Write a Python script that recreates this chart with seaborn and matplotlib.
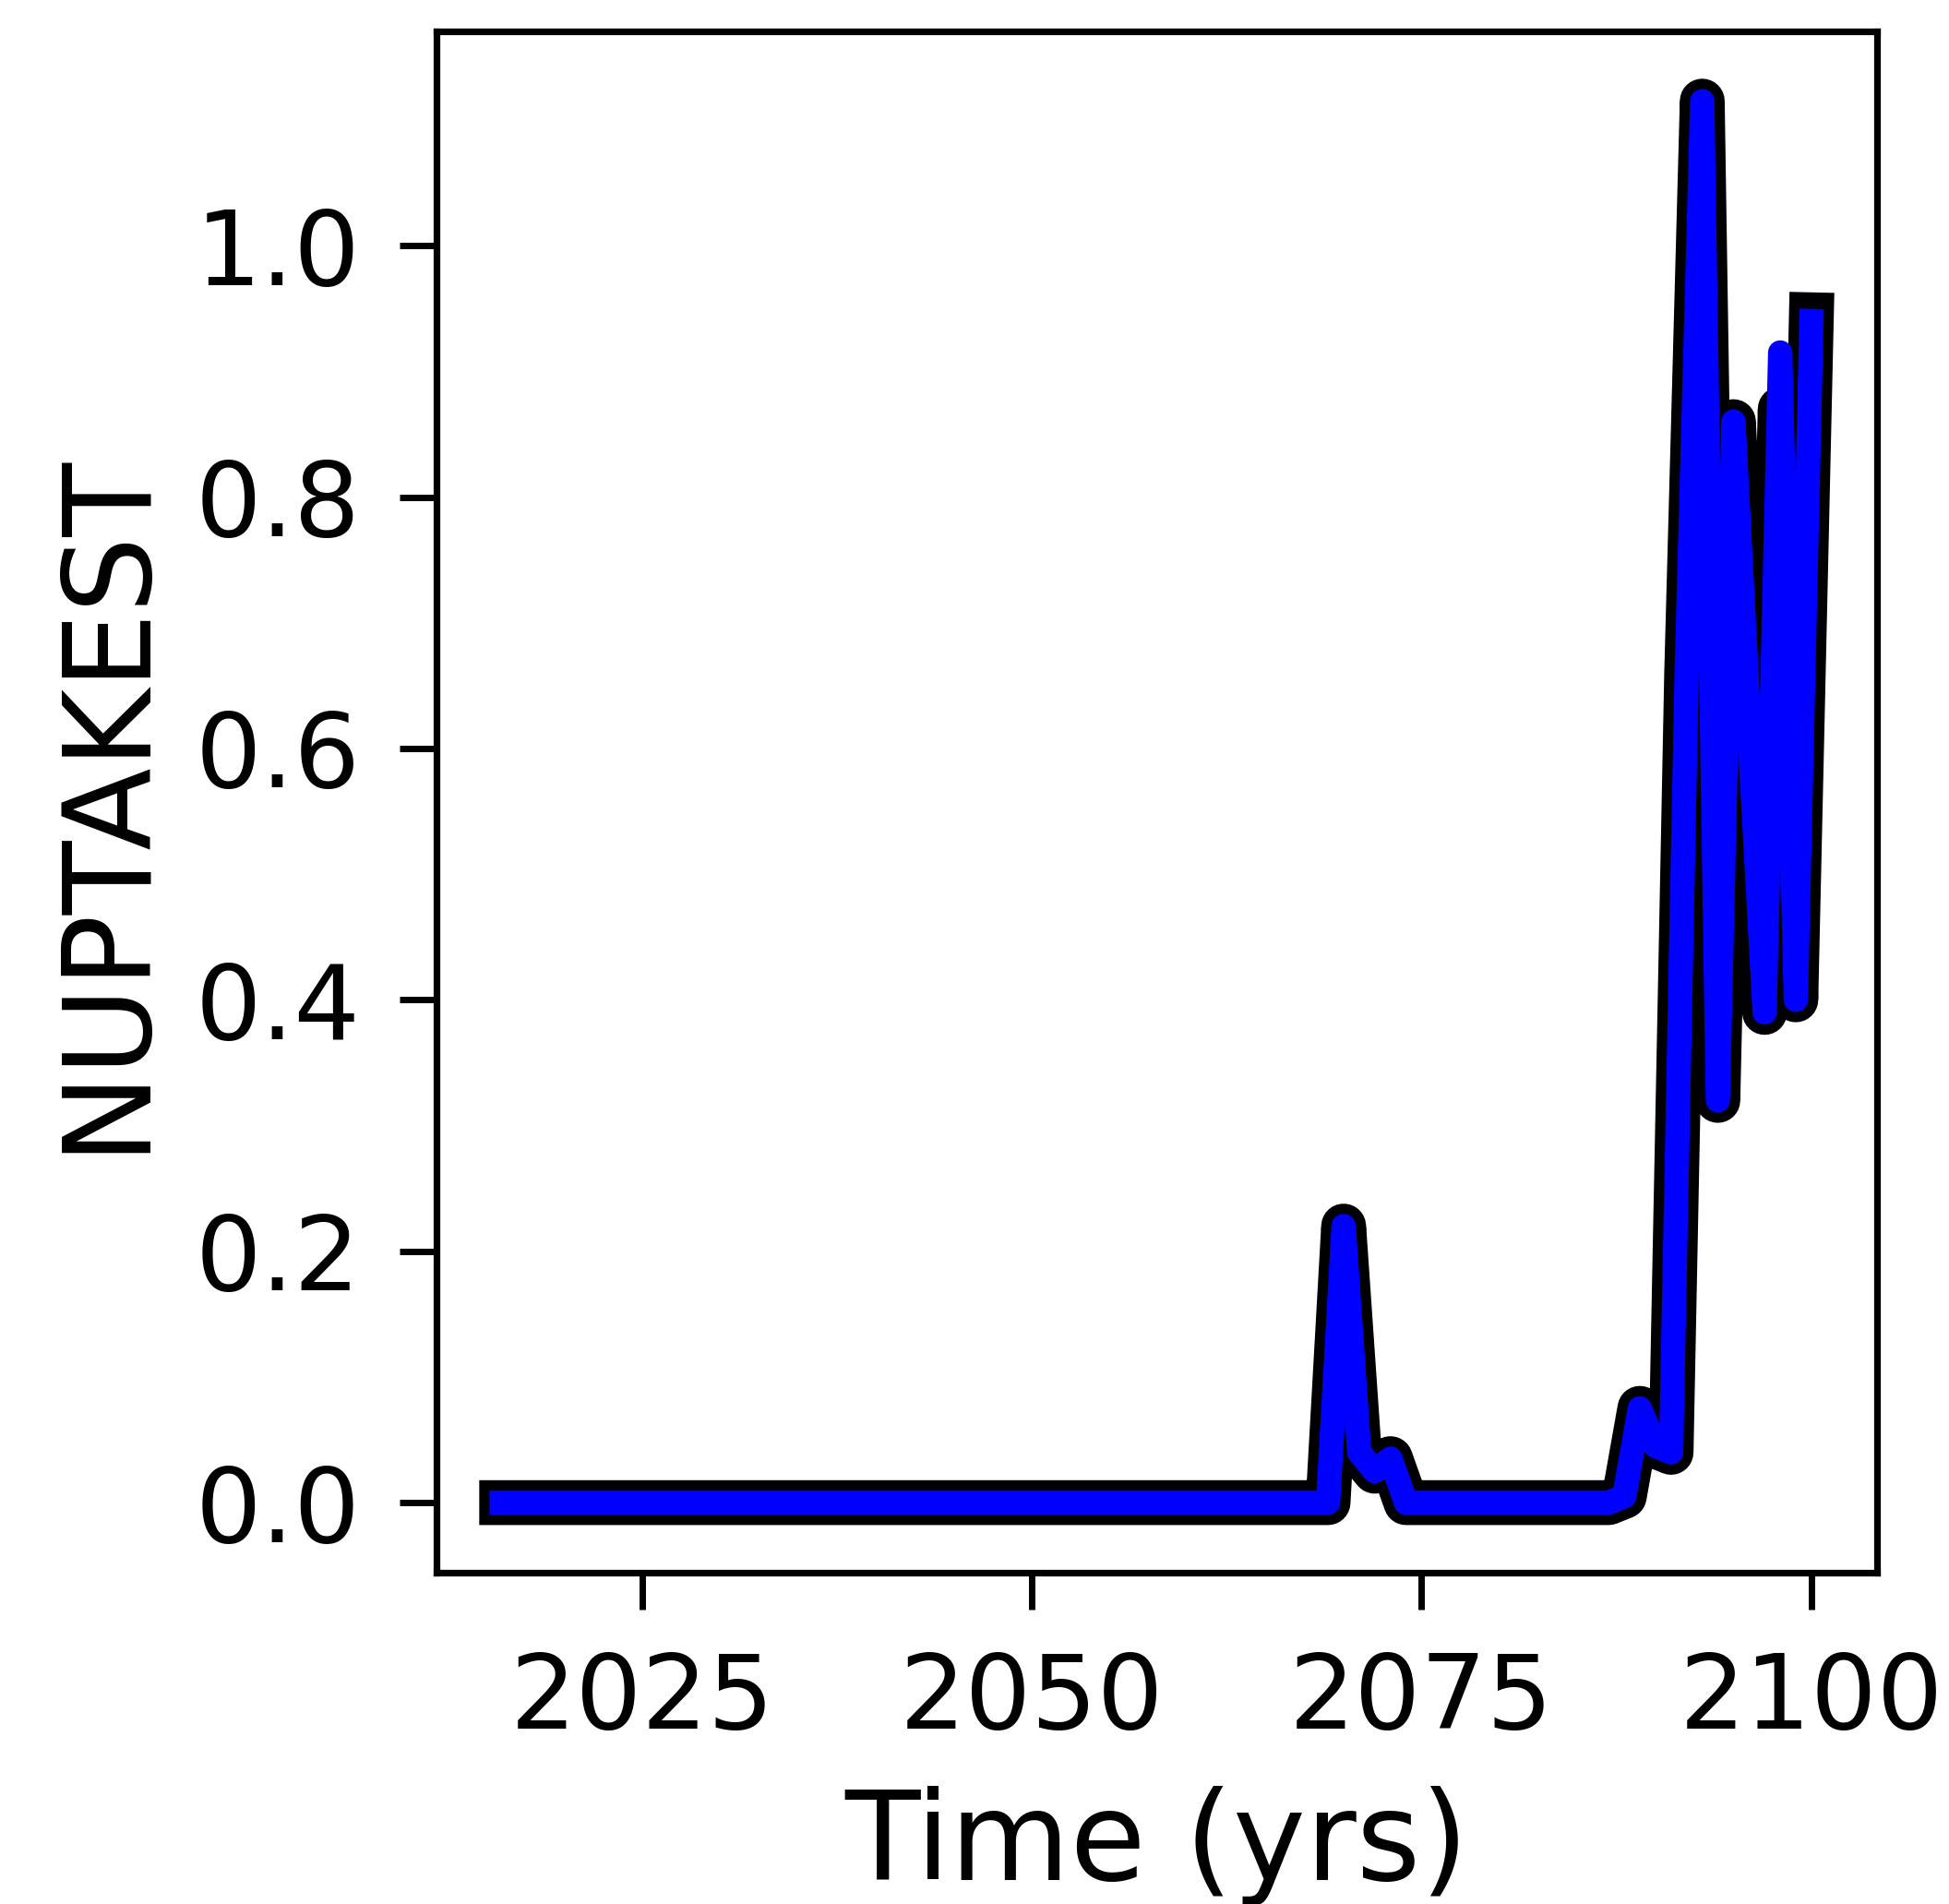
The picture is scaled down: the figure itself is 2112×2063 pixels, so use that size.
import matplotlib
matplotlib.use("Agg")
import matplotlib.pyplot as plt
import seaborn as sns

years = list(range(2016, 2101))

# black series (NUPTAKEST, run 1)
black_vals = [
    0.0, 0.0, 0.0, 0.0, 0.0, 0.0, 0.0, 0.0, 0.0, 0.0,   # 2016-2025
    0.0, 0.0, 0.0, 0.0, 0.0, 0.0, 0.0, 0.0, 0.0, 0.0,   # 2026-2035
    0.0, 0.0, 0.0, 0.0, 0.0, 0.0, 0.0, 0.0, 0.0, 0.0,   # 2036-2045
    0.0, 0.0, 0.0, 0.0, 0.0, 0.0, 0.0, 0.0, 0.0, 0.0,   # 2046-2055
    0.0, 0.0, 0.0, 0.0, 0.0, 0.0, 0.0, 0.0, 0.0, 0.0,   # 2056-2065
    0.0, 0.0, 0.0, 0.0,                                 # 2066-2069
    0.22, 0.04, 0.025, 0.035,                           # 2070-2073
    0.0, 0.0, 0.0, 0.0, 0.0, 0.0, 0.0, 0.0, 0.0, 0.0,   # 2074-2083
    0.0, 0.0, 0.0, 0.0,                                 # 2084-2087
    0.005, 0.075, 0.045, 0.04, 0.66, 1.115, 0.32,       # 2088-2094
    0.86, 0.62, 0.39, 0.87, 0.40, 0.945,                # 2095-2100
]

# blue series (NUPTAKEST, run 2)
blue_vals = [
    0.0, 0.0, 0.0, 0.0, 0.0, 0.0, 0.0, 0.0, 0.0, 0.0,
    0.0, 0.0, 0.0, 0.0, 0.0, 0.0, 0.0, 0.0, 0.0, 0.0,
    0.0, 0.0, 0.0, 0.0, 0.0, 0.0, 0.0, 0.0, 0.0, 0.0,
    0.0, 0.0, 0.0, 0.0, 0.0, 0.0, 0.0, 0.0, 0.0, 0.0,
    0.0, 0.0, 0.0, 0.0, 0.0, 0.0, 0.0, 0.0, 0.0, 0.0,
    0.0, 0.0, 0.0, 0.0,
    0.22, 0.04, 0.025, 0.035,
    0.0, 0.0, 0.0, 0.0, 0.0, 0.0, 0.0, 0.0, 0.0, 0.0,
    0.0, 0.0, 0.0, 0.0,
    0.005, 0.075, 0.045, 0.04, 0.66, 1.115, 0.32,
    0.86, 0.62, 0.39, 0.915, 0.40, 0.94,
]

xticks = [2025, 2050, 2075, 2100]
yticks = [0.0, 0.2, 0.4, 0.6, 0.8, 1.0]

plt.rcParams['font.family'] = ['DejaVu Sans']
plt.rcParams['lines.solid_capstyle'] = 'projecting'
plt.rcParams['lines.solid_joinstyle'] = 'round'

DPI = 200
fig = plt.figure(figsize=(2112 / DPI, 2063 / DPI), dpi=DPI)
ax = fig.add_axes([0.2238, 0.174, 0.963 - 0.2238, 0.9837 - 0.174])

sns.lineplot(x=years, y=black_vals, color='black', linewidth=17.5,
             estimator=None, ax=ax)
sns.lineplot(x=years, y=blue_vals, color='blue', linewidth=9.5,
             estimator=None, ax=ax)

ax.set_xticks(xticks)
ax.set_yticks(yticks)
ax.set_yticklabels([f"{v:.1f}" for v in yticks])
ax.tick_params(axis='both', labelsize=40.5, length=14.4, width=2.5,
               color='black', labelcolor='black')
ax.tick_params(axis='y', pad=15)
ax.tick_params(axis='x', pad=16)
for s in ax.spines.values():
    s.set_linewidth(2.6)
    s.set_color('black')
ax.set_xlabel('Time (yrs)', fontsize=48, labelpad=14)
ax.set_ylabel('NUPTAKEST', fontsize=47, labelpad=12)

fig.savefig('out.png', dpi=DPI, facecolor='white')
